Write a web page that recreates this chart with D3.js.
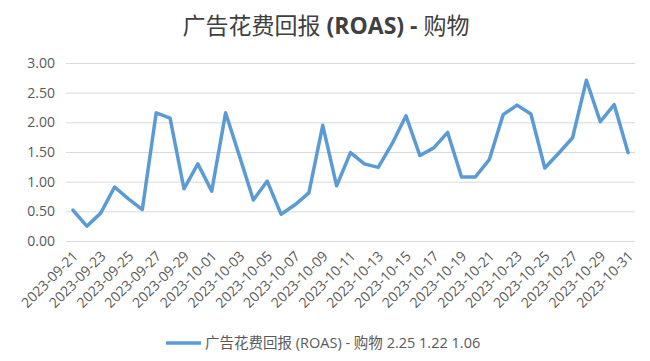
<!DOCTYPE html>
<html>
<head>
<meta charset="utf-8">
<script src="https://cdn.jsdelivr.net/npm/d3@7"></script>
<style>
  body { margin: 0; background: #fff; }
  svg { display: block; }
  text { font-family: "Open Sans", "Noto Sans CJK SC", sans-serif; }
</style>
</head>
<body>
<svg id="chart" width="650" height="361"></svg>
<script>
// data
const dates = [
  '2023-09-21','2023-09-22','2023-09-23','2023-09-24','2023-09-25','2023-09-26','2023-09-27',
  '2023-09-28','2023-09-29','2023-09-30','2023-10-01','2023-10-02','2023-10-03','2023-10-04',
  '2023-10-05','2023-10-06','2023-10-07','2023-10-08','2023-10-09','2023-10-10','2023-10-11',
  '2023-10-12','2023-10-13','2023-10-14','2023-10-15','2023-10-16','2023-10-17','2023-10-18',
  '2023-10-19','2023-10-20','2023-10-21','2023-10-22','2023-10-23','2023-10-24','2023-10-25',
  '2023-10-26','2023-10-27','2023-10-28','2023-10-29','2023-10-30','2023-10-31'
];
const roas = [
  0.52, 0.25, 0.47, 0.91, 0.71, 0.53, 2.16,
  2.07, 0.88, 1.30, 0.84, 2.16, 1.43, 0.69,
  1.01, 0.45, 0.61, 0.81, 1.95, 0.93, 1.49,
  1.30, 1.24, 1.64, 2.11, 1.44, 1.57, 1.83,
  1.08, 1.08, 1.37, 2.13, 2.29, 2.14, 1.23,
  1.48, 1.74, 2.71, 2.01, 2.30, 1.49
];
const yTicks = [0, 0.5, 1, 1.5, 2, 2.5, 3];
const legendText = '广告花费回报 (ROAS) - 购物 2.25 1.22 1.06';

const svg = d3.select('#chart');
const plotLeft = 66, plotRight = 635, plotTop = 63, plotBottom = 241;

const x = d3.scaleBand().domain(dates).range([plotLeft, plotRight]).padding(0);
const y = d3.scaleLinear().domain([0, 3]).range([plotBottom, plotTop]);

// title
const title = svg.append('text')
    .attr('x', 326)
    .attr('y', 34)
    .attr('text-anchor', 'middle')
    .attr('fill', '#404040')
    .style('font-size', '23px');
title.append('tspan').text('广告花费回报 ');
title.append('tspan').style('font-weight', 'bold').text('(ROAS) - ');
title.append('tspan').text('购物');

// gridlines
svg.append('g')
    .attr('transform', `translate(${plotLeft},0)`)
    .call(d3.axisLeft(y).tickValues(yTicks).tickSize(-(plotRight - plotLeft)).tickFormat(''))
    .call(g => g.select('.domain').remove())
    .call(g => g.selectAll('line').attr('stroke', '#d9d9d9'));

// y labels
svg.append('g')
    .selectAll('text')
    .data(yTicks)
    .join('text')
        .attr('x', 55)
        .attr('y', d => y(d))
        .attr('dy', '0.35em')
        .attr('text-anchor', 'end')
        .attr('fill', '#595959')
        .style('font-size', '14px')
        .text(d3.format('.2f'));

// x labels, every second day
svg.append('g')
    .selectAll('text')
    .data(dates.filter((d, i) => i % 2 == 0))
    .join('text')
        .attr('transform', d => `translate(${x(d) + x.bandwidth() / 2 + 6},${plotBottom + 16}) rotate(-45)`)
        .attr('text-anchor', 'end')
        .attr('fill', '#595959')
        .style('font-size', '14px')
        .text(d => d);

// the line
const line = d3.line()
    .x((d, i) => x(dates[i]) + x.bandwidth() / 2)
    .y(d => y(d));

svg.append('path')
    .datum(roas)
    .attr('d', line)
    .attr('fill', 'none')
    .attr('stroke', '#5b9bd5')
    .attr('stroke-width', 3.5)
    .attr('stroke-linejoin', 'round')
    .attr('stroke-linecap', 'round');

// legend
svg.append('line')
    .attr('x1', 166).attr('x2', 201)
    .attr('y1', 343).attr('y2', 343)
    .attr('stroke', '#5b9bd5')
    .attr('stroke-width', 3.5);

svg.append('text')
    .attr('x', 205)
    .attr('y', 348)
    .attr('fill', '#595959')
    .style('font-size', '14.5px')
    .text(legendText);
</script>
</body>
</html>
